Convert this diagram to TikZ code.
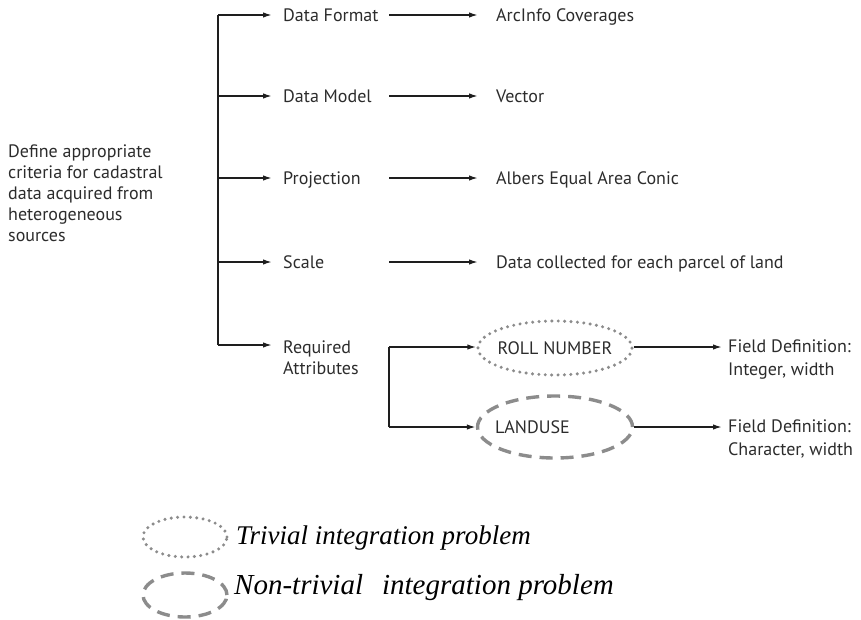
\documentclass[tikz,border=0pt]{standalone}
\usepackage{fontspec}
\setmainfont{Liberation Serif}
\newfontfamily\labelfont{PT Sans}
\usetikzlibrary{arrows.meta,shapes.geometric}
\definecolor{ink}{HTML}{1E1E1E}
\definecolor{txt}{HTML}{2C2C2C}
\definecolor{ringgray}{HTML}{8C8C8C}
\begin{document}
\begin{tikzpicture}[x=1pt,y=-1pt,
  lbl/.style={font=\labelfont\fontsize{18}{21}\selectfont, text=txt, inner ysep=0pt},
  item/.style={lbl, anchor=west, text height=12.6pt, text depth=0pt},
  branch/.style={item, inner xsep=11pt},
  value/.style={item, inner xsep=18pt},
  multi/.style={lbl, anchor=north west, align=left},
  conn/.style={draw=ink, line width=1.6pt},
  arr/.style={conn, -{Latex[length=9pt,width=5.5pt]}},
  ring/.style={ellipse, draw=ringgray, line width=3.4pt, inner sep=0pt},
  trivial/.style={ring, dash pattern=on 0pt off 6.4pt, line cap=round},
  nontrivial/.style={ring, dash pattern=on 13pt off 8pt},
  legend/.style={font=\itshape\fontsize{27}{30}\selectfont, text=black, anchor=base west, inner sep=0pt}
]
\useasboundingbox (0,0) rectangle (861,619);

% goal statement
\node[multi, inner xsep=0pt, font=\labelfont\fontsize{18}{20.8}\selectfont] (goal) at (8,145)
  {Define appropriate\\criteria for cadastral\\data acquired from\\heterogeneous\\sources};

% junctions on the main trunk
\coordinate (j1) at (218,15);
\coordinate (j2) at (218,96);
\coordinate (j3) at (218,178);
\coordinate (j4) at (218,262);
\coordinate (j5) at (218,345);

% criteria
\node[branch] (fmt)  at (272,15)  {Data Format};
\node[branch] (mdl)  at (272,96)  {Data Model};
\node[branch] (proj) at (272,178) {Projection};
\node[branch] (scl)  at (272,262) {Scale};
\node[multi, inner xsep=11pt] (req) at (272,341) {Required\\Attributes};

% starts of the value arrows
\coordinate (s1) at (389,15);
\coordinate (s2) at (389,96);
\coordinate (s3) at (389,178);
\coordinate (s4) at (389,262);

% chosen values
\node[value] (arc)    at (478,15)  {ArcInfo Coverages};
\node[value] (vec)    at (478,96)  {Vector};
\node[value] (albers) at (478,178) {Albers Equal Area Conic};
\node[value] (parcel) at (478,262) {Data collected for each parcel of land};

% attributes
\node[trivial, minimum width=154pt, minimum height=54pt,
      label={[lbl, inner xsep=0pt]center:ROLL NUMBER}] (roll) at (555,348) {};
\node[nontrivial, minimum width=155pt, minimum height=62pt,
      label={[lbl, anchor=west, inner xsep=0pt, xshift=19pt]west:LANDUSE}] (land) at (555,427) {};

\coordinate (k1) at (389,347);
\coordinate (k2) at (389,427);

\node[multi, inner xsep=6pt, font=\labelfont\fontsize{18}{23}\selectfont] (fd1) at (722,340) {Field Definition:\\Integer, width};
\node[multi, inner xsep=6pt, font=\labelfont\fontsize{18}{23}\selectfont] (fd2) at (722,420) {Field Definition:\\Character, width};

% connectors
\draw[conn] (j1) -- (j5);
\draw[arr] (j1) -- (fmt.west);
\draw[arr] (j2) -- (mdl.west);
\draw[arr] (j3) -- (proj.west);
\draw[arr] (j4) -- (scl.west);
\draw[arr] (j5) -- (j5 -| req.west);

\draw[arr] (s1) -- (arc.west);
\draw[arr] (s2) -- (vec.west);
\draw[arr] (s3) -- (albers.west);
\draw[arr] (s4) -- (parcel.west);

\draw[conn] (k1) -- (k2);
\draw[arr] (k1) -- (k1 -| roll.west);
\draw[arr] (k2) -- (land.west);
\draw[arr] (roll.east |- k1) -- (k1 -| fd1.west);
\draw[arr] (land.east) -- (land.east -| fd2.west);

% legend
\node[trivial, minimum width=84pt, minimum height=40pt] (keytriv) at (185,537) {};
\node[nontrivial, minimum width=84pt, minimum height=44pt] (keynon) at (185,595) {};
\node[legend] (keytrivtxt) at (236,544) {Trivial integration problem};
\node[legend, font=\itshape\fontsize{29}{32}\selectfont] (keynontxt) at (234,594)
  {Non-trivial\hspace{19pt}integration problem};
\end{tikzpicture}
\end{document}
